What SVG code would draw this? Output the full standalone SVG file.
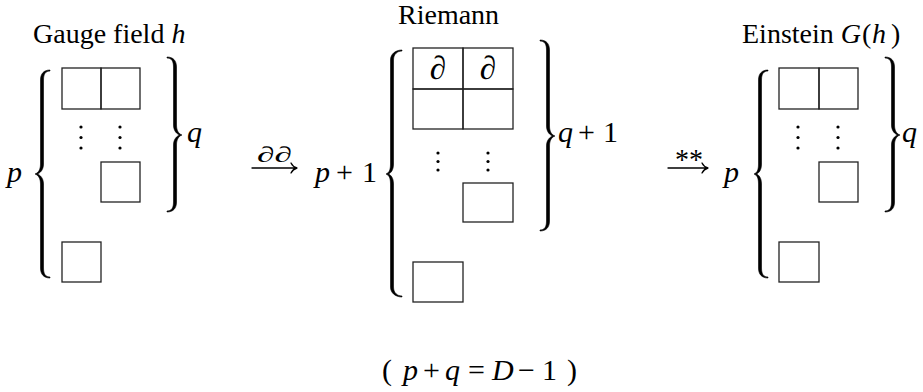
<svg xmlns="http://www.w3.org/2000/svg" width="923" height="392" viewBox="0 0 923 392">
<style>
text{font-family:"Liberation Serif","Times New Roman",serif;font-size:28px;fill:#000}
.it{font-style:italic}
.m{font-size:30px}
.sm{font-size:22px}
.big{font-size:33px}
.box{fill:none;stroke:#222;stroke-width:1.3}
.brace{fill:#000;stroke:#000;stroke-width:0.6;stroke-linejoin:round}
.dot{fill:#000}
.arr{fill:none;stroke:#000;stroke-width:1.3;stroke-linecap:round}
</style>
<rect width="923" height="392" fill="#fff"/>

<g id="gauge">
<text x="33" y="43">Gauge field <tspan class="it">h</tspan></text>
<rect class="box" x="62" y="68" width="39" height="41"/>
<rect class="box" x="101" y="68" width="39" height="41"/>
<circle class="dot" cx="81" cy="127" r="1.6"/><circle class="dot" cx="81" cy="137.5" r="1.6"/><circle class="dot" cx="81" cy="148" r="1.6"/>
<circle class="dot" cx="120" cy="127" r="1.6"/><circle class="dot" cx="120" cy="137.5" r="1.6"/><circle class="dot" cx="120" cy="148" r="1.6"/>
<rect class="box" x="101" y="162" width="39" height="40"/>
<rect class="box" x="62" y="242" width="39" height="40"/>
<path class="brace" d="M50,70 C43.5,70 40.5,74 40.5,80 L40.5,164 C40.5,170 38,173 35,174 C38,175 40.5,178 40.5,184 L40.5,268 C40.5,274 43.5,278 50,278 L50,277 C45.5,277 43.5,274 43.5,268 L43.5,184 C43.5,178 40,175 37.5,174 C40,173 43.5,170 43.5,164 L43.5,80 C43.5,74 45.5,71 50,71 Z"/>
<path class="brace" d="M167,57 C173.5,57 176.5,61 176.5,67 L176.5,125 C176.5,131 179,134 182,135 C179,136 176.5,139 176.5,145 L176.5,202 C176.5,208 173.5,212 167,212 L167,211 C171.5,211 173.5,208 173.5,202 L173.5,145 C173.5,139 177,136 179.5,135 C177,134 173.5,131 173.5,125 L173.5,67 C173.5,61 171.5,58 167,58 Z"/>
<text class="it m" x="7" y="182">p</text>
<text class="it m" x="187" y="142">q</text>
</g>

<g id="riemann">
<text x="398" y="24">Riemann</text>
<rect class="box" x="413" y="48" width="50" height="41"/>
<rect class="box" x="463" y="48" width="50" height="41"/>
<rect class="box" x="413" y="89" width="50" height="40"/>
<rect class="box" x="463" y="89" width="50" height="40"/>
<text class="it big" x="438" y="79" text-anchor="middle">∂</text>
<text class="it big" x="488" y="79" text-anchor="middle">∂</text>
<circle class="dot" cx="438" cy="153" r="1.6"/><circle class="dot" cx="438" cy="161.5" r="1.6"/><circle class="dot" cx="438" cy="170" r="1.6"/>
<circle class="dot" cx="488" cy="153" r="1.6"/><circle class="dot" cx="488" cy="161.5" r="1.6"/><circle class="dot" cx="488" cy="170" r="1.6"/>
<rect class="box" x="463" y="183" width="50" height="39"/>
<rect class="box" x="413" y="262" width="50" height="40"/>
<path class="brace" d="M402,50 C395.5,50 390.5,54 390.5,60 L390.5,164 C390.5,170 389,173 386,174 C389,175 390.5,178 390.5,184 L390.5,287 C390.5,293 395.5,297 402,297 L402,296 C397.5,296 393.5,293 393.5,287 L393.5,184 C393.5,178 391,175 388.5,174 C391,173 393.5,170 393.5,164 L393.5,60 C393.5,54 397.5,51 402,51 Z"/>
<path class="brace" d="M540,40 C546.5,40 549.5,44 549.5,50 L549.5,126 C549.5,132 552,135 555,136 C552,137 549.5,140 549.5,146 L549.5,221 C549.5,227 546.5,231 540,231 L540,230 C544.5,230 546.5,227 546.5,221 L546.5,146 C546.5,140 550,137 552.5,136 C550,135 546.5,132 546.5,126 L546.5,50 C546.5,44 544.5,41 540,41 Z"/>
<text class="m" x="315" y="182"><tspan class="it">p</tspan><tspan x="336">+</tspan><tspan x="362">1</tspan></text>
<text class="m" x="558" y="142"><tspan class="it">q</tspan><tspan x="578">+</tspan><tspan x="603">1</tspan></text>
</g>

<g id="einstein">
<text x="742" y="43">Einstein <tspan class="it">G</tspan><tspan x="862">(</tspan><tspan class="it" x="872">h</tspan><tspan x="891">)</tspan></text>
<rect class="box" x="779" y="68" width="40" height="41"/>
<rect class="box" x="819" y="68" width="39" height="41"/>
<circle class="dot" cx="798" cy="127" r="1.6"/><circle class="dot" cx="798" cy="137.5" r="1.6"/><circle class="dot" cx="798" cy="148" r="1.6"/>
<circle class="dot" cx="838" cy="127" r="1.6"/><circle class="dot" cx="838" cy="137.5" r="1.6"/><circle class="dot" cx="838" cy="148" r="1.6"/>
<rect class="box" x="819" y="162" width="39" height="40"/>
<rect class="box" x="779" y="242" width="40" height="40"/>
<path class="brace" d="M768,70 C761.5,70 758.5,74 758.5,80 L758.5,164 C758.5,170 757,173 754,174 C757,175 758.5,178 758.5,184 L758.5,268 C758.5,274 761.5,278 768,278 L768,277 C763.5,277 761.5,274 761.5,268 L761.5,184 C761.5,178 759,175 756.5,174 C759,173 761.5,170 761.5,164 L761.5,80 C761.5,74 763.5,71 768,71 Z"/>
<path class="brace" d="M885,57 C891.5,57 894.5,61 894.5,67 L894.5,125 C894.5,131 897,134 900,135 C897,136 894.5,139 894.5,145 L894.5,202 C894.5,208 891.5,212 885,212 L885,211 C889.5,211 891.5,208 891.5,202 L891.5,145 C891.5,139 895,136 897.5,135 C895,134 891.5,131 891.5,125 L891.5,67 C891.5,61 889.5,58 885,58 Z"/>
<text class="it m" x="724" y="182">p</text>
<text class="it m" x="902" y="142">q</text>
</g>

<g id="connectors">
<path class="arr" d="M252,168 L297,168 M291,163 Q293,167 297,168 Q293,169 291,173"/>
<text class="it sm" x="257" y="162" textLength="35" lengthAdjust="spacingAndGlyphs">∂∂</text>
<path class="arr" d="M668,168 L708,168 M702,163 Q704,167 708,168 Q704,169 702,173"/>
<text class="m" x="675" y="169" textLength="28" lengthAdjust="spacingAndGlyphs">**</text>
</g>

<g id="constraint">
<text class="m" x="382" y="380">(<tspan class="it" x="403">p</tspan><tspan x="423">+</tspan><tspan class="it" x="445">q</tspan><tspan x="468">=</tspan><tspan class="it" x="492">D</tspan><tspan x="518">−</tspan><tspan x="542">1</tspan><tspan x="567">)</tspan></text>
</g>
</svg>
